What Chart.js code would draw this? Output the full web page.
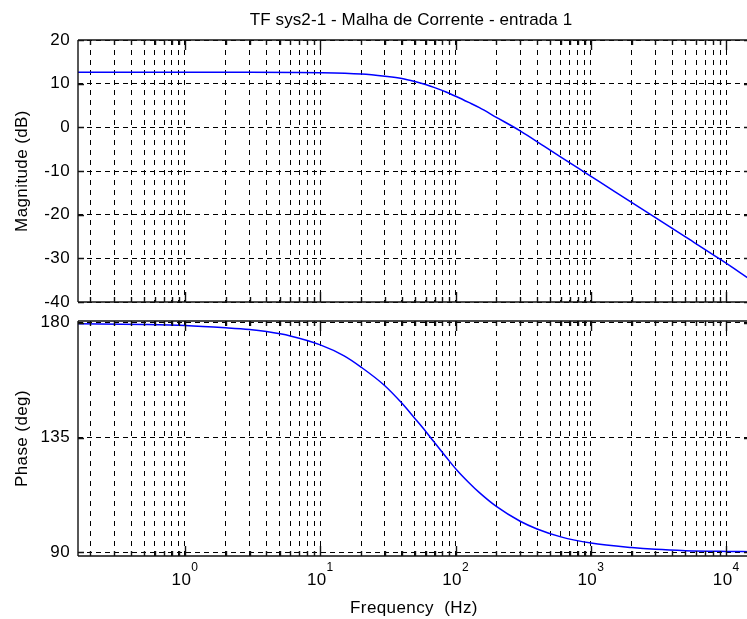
<!DOCTYPE html>
<html>
<head>
<meta charset="utf-8">
<script src="https://cdn.jsdelivr.net/npm/chart.js@4/dist/chart.umd.min.js"></script>
<style>
  html, body { margin: 0; padding: 0; background: #fff; overflow: hidden; }
  #wrap { position: relative; width: 747px; height: 619px; overflow: hidden; background: #fff; }
  #mag, #phase { position: absolute; left: 0; }
  #mag { top: 0; }
  #phase { top: 300px; }
</style>
</head>
<body>
<div id="wrap">
  <canvas id="mag" width="760" height="310"></canvas>
  <canvas id="phase" width="760" height="340"></canvas>
</div>
<script>
// Texts
const chartTitle = 'TF sys2-1 - Malha de Corrente - entrada 1';
const magAxisLabel = 'Magnitude (dB)';
const phaseAxisLabel = 'Phase (deg)';
const freqAxisLabel = 'Frequency  (Hz)';

// Magnitude response (Hz, dB)
const magFreqHz = [0.16, 1, 3, 10, 20, 30, 40, 50, 60, 70, 85, 102, 125, 150, 200, 300, 450, 600, 900, 1500, 3000, 5000, 9000, 15000];
const magDb     = [12.6, 12.6, 12.6, 12.5, 12.2, 11.7, 11.2, 10.5, 9.8, 9.1, 8.1, 7.0, 5.7, 4.5, 2.3, -0.8, -4.3, -6.8, -10.3, -14.7, -20.7, -25.1, -30.2, -34.8];

// Phase response (Hz, degrees)
const phaseFreqHz = [0.16, 0.5, 1, 2, 3, 4, 6, 10, 15, 20, 30, 40, 50, 60, 70, 85, 102, 125, 150, 200, 300, 400, 600, 1000, 2000, 3000, 5000, 10000, 15000];
const phaseDeg    = [179.6, 179.3, 178.9, 178.0, 177.3, 176.5, 174.8, 171.3, 167.0, 162.6, 155.3, 148.5, 142.5, 137.5, 133.0, 127.4, 122.3, 117.4, 113.4, 108.0, 102.2, 99.2, 96.1, 93.7, 91.9, 91.2, 90.7, 90.4, 90.3];

// Axis limits and ticks
const freqMin = 0.1619, freqMax = 14994;
const freqDecadeExponents = [-1, 0, 1, 2, 3, 4];   // decades with grid lines
const freqLabelExponents = [0, 1, 2, 3, 4];        // decades with 10^n labels
const freqMultipliers = [1, 2, 3, 4, 5, 6, 7, 8, 9];
const magMin = -40, magMax = 20;
const magTicks = [20, 10, 0, -10, -20, -30, -40];
const phaseMin = 88.6, phaseMax = 180.65;
const phaseTicks = [180, 135, 90];

const FONT = '"Liberation Sans", Arial, Helvetica, sans-serif';
const FONT_SIZE = 17;
Chart.defaults.font.family = FONT;
Chart.defaults.color = '#000';

// Grid frequencies: 1..9 x 10^n inside the axis range
function setFreqTicks(scale) {
  const ticks = [];
  freqDecadeExponents.forEach(e => {
    freqMultipliers.forEach(m => {
      const v = m * Math.pow(10, e);
      if (v >= freqMin && v <= freqMax) ticks.push({ value: v, major: m === 1 });
    });
  });
  scale.ticks = ticks;
}

// Slightly looser text, like the hinted screen font of the plot
const spacingPlugin = {
  id: 'spacing',
  beforeDraw(chart) { chart.ctx.letterSpacing = '0.4px'; }
};

// Box around the axes with inward tick marks on every side
const framePlugin = {
  id: 'frame',
  afterDatasetsDraw(chart) {
    const { ctx, chartArea: a, scales } = chart;
    ctx.save();
    ctx.strokeStyle = '#111';
    ctx.lineWidth = 1.4;
    ctx.setLineDash([]);
    ctx.beginPath();
    const seg = (x1, y1, x2, y2) => { ctx.moveTo(x1, y1); ctx.lineTo(x2, y2); };
    seg(a.left, a.top, a.right, a.top);
    seg(a.left, a.bottom, a.right, a.bottom);
    seg(a.left, a.top, a.left, a.bottom);
    seg(a.right, a.top, a.right, a.bottom);
    const xs = scales.x;
    xs.ticks.forEach(t => {
      const px = Math.round(xs.getPixelForValue(t.value)) + 0.5;
      const len = t.major ? 10 : 5;
      seg(px, a.top, px, a.top + len);
      seg(px, a.bottom, px, a.bottom - len);
    });
    const ys = scales.y;
    ys.ticks.forEach(t => {
      const py = Math.round(ys.getPixelForValue(t.value)) + 0.5;
      seg(a.left, py, a.left + 6, py);
      seg(a.right, py, a.right - 6, py);
    });
    ctx.stroke();
    ctx.restore();
  }
};

// Title above the magnitude axes
const titlePlugin = {
  id: 'plotTitle',
  afterDraw(chart) {
    const { ctx } = chart;
    ctx.save();
    ctx.letterSpacing = '0.1px';
    ctx.font = FONT_SIZE + 'px ' + FONT;
    ctx.fillStyle = '#000';
    ctx.textAlign = 'center';
    ctx.textBaseline = 'alphabetic';
    ctx.fillText(chartTitle, 411, 25);
    ctx.restore();
  }
};

// 10^n labels under the phase axes
const decadeLabelPlugin = {
  id: 'decadeLabels',
  afterDraw(chart) {
    const { ctx, scales } = chart;
    const xs = scales.x;
    ctx.save();
    ctx.fillStyle = '#000';
    ctx.textAlign = 'left';
    ctx.textBaseline = 'alphabetic';
    freqLabelExponents.forEach(e => {
      const px = xs.getPixelForValue(Math.pow(10, e));
      ctx.font = FONT_SIZE + 'px ' + FONT;
      const wBase = ctx.measureText('10').width;
      ctx.font = '12px ' + FONT;
      const wExp = ctx.measureText(String(e)).width;
      const x0 = px - (wBase + wExp) / 2;
      ctx.font = FONT_SIZE + 'px ' + FONT;
      ctx.fillText('10', x0, 285);
      ctx.font = '12px ' + FONT;
      ctx.fillText(String(e), x0 + wBase, 271);
    });
    ctx.restore();
  }
};

function xScale(height, title) {
  return {
    type: 'logarithmic',
    min: freqMin,
    max: freqMax,
    afterBuildTicks: setFreqTicks,
    afterFit: s => { s.height = height; s.paddingLeft = 0; s.paddingRight = 0; },
    ticks: { display: false, autoSkip: false },
    grid: { color: '#000', lineWidth: 1, drawTicks: false },
    border: { display: false, dash: [5, 5] },
    title: title ? {
      display: true, text: title, color: '#000',
      font: { size: FONT_SIZE, family: FONT }, padding: { top: 0, bottom: 21 }
    } : { display: false }
  };
}

function yScale(min, max, tickValues, label) {
  return {
    min: min,
    max: max,
    afterBuildTicks: s => { s.ticks = tickValues.map(v => ({ value: v })); },
    afterFit: s => { s.width = 78; s.paddingTop = 0; s.paddingBottom = 0; },
    ticks: { padding: 8, color: '#000', autoSkip: false, font: { size: FONT_SIZE, family: FONT }, callback: v => String(v) },
    grid: { color: '#000', lineWidth: 1, drawTicks: false },
    border: { display: false, dash: [5, 4] },
    title: {
      display: true, text: label, color: '#000',
      font: { size: FONT_SIZE, family: FONT }, padding: { top: 12, bottom: 0 }
    }
  };
}

function curve(xs, ys) {
  return {
    data: xs.map((f, i) => ({ x: f, y: ys[i] })),
    borderColor: '#0000ff',
    borderWidth: 1.5,
    pointRadius: 0,
    fill: false,
    cubicInterpolationMode: 'monotone'
  };
}

const common = {
  responsive: false,
  animation: false,
  devicePixelRatio: 1,
  events: [],
  plugins: { legend: { display: false }, tooltip: { enabled: false }, title: { display: false } }
};

new Chart(document.getElementById('mag'), {
  type: 'line',
  data: { datasets: [curve(magFreqHz, magDb)] },
  options: Object.assign({}, common, {
    layout: { padding: { top: 40, left: 0, right: 10, bottom: 0 } },
    scales: {
      x: xScale(8, null),
      y: yScale(magMin, magMax, magTicks, magAxisLabel)
    }
  }),
  plugins: [spacingPlugin, framePlugin, titlePlugin]
});

new Chart(document.getElementById('phase'), {
  type: 'line',
  data: { datasets: [curve(phaseFreqHz, phaseDeg)] },
  options: Object.assign({}, common, {
    layout: { padding: { top: 21, left: 0, right: 10, bottom: 0 } },
    scales: {
      x: xScale(84, freqAxisLabel),
      y: yScale(phaseMin, phaseMax, phaseTicks, phaseAxisLabel)
    }
  }),
  plugins: [spacingPlugin, framePlugin, decadeLabelPlugin]
});
</script>
</body>
</html>
